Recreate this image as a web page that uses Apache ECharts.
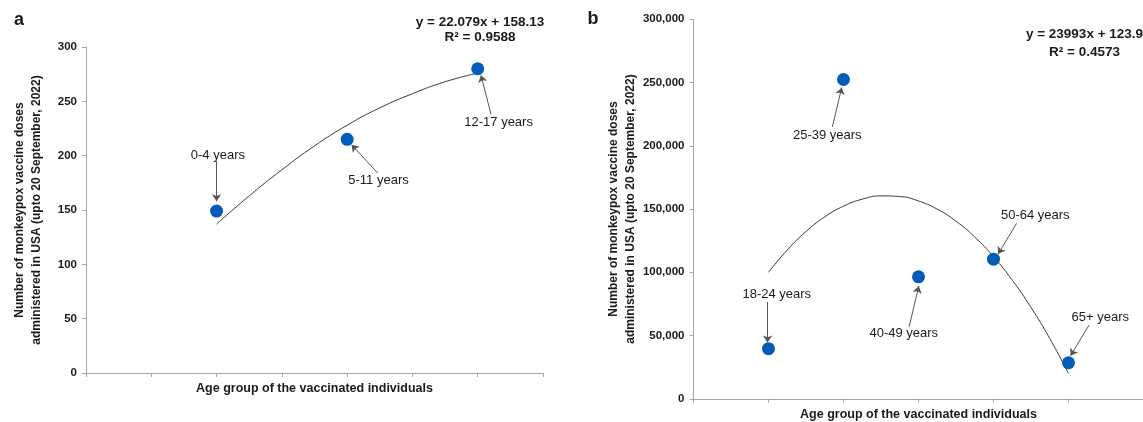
<!DOCTYPE html>
<html>
<head>
<meta charset="utf-8">
<script src="https://cdn.jsdelivr.net/npm/echarts@6/dist/echarts.min.js"></script>
<style>
html,body{margin:0;padding:0;background:#fff;}
#chart{width:1143px;height:422px;}
</style>
</head>
<body>
<div id="chart"></div>
<script>
// ---------- Panel a data ----------
const aCategories = ['0-4 years', '5-11 years', '12-17 years'];
const aX = [1, 2, 3];
const aValues = [149, 215, 280];
const aTrendX = [1, 1.25, 1.5, 1.75, 2, 2.25, 2.5, 2.75, 3];
const aTrendY = [137, 163, 187, 209, 228, 244, 257, 268, 276];
const aYTicks = [0, 50, 100, 150, 200, 250, 300];
const aEquation = ['y = 22.079x + 158.13', 'R² = 0.9588'];
// annotation anchors (data space): label centre, arrow start, arrow tip
const aLabelAt = [[1.01, 200], [2.24, 177], [3.16, 231]];
const aArrowFrom = [[1.0, 195], [2.234, 184], [3.102, 238]];
const aArrowTo = [[1.0, 158], [2.034, 210], [3.025, 274]];

// ---------- Panel b data ----------
const bCategories = ['18-24 years', '25-39 years', '40-49 years', '50-64 years', '65+ years'];
const bX = [1, 2, 3, 4, 5];
const bValues = [39600, 252400, 96400, 110400, 28500];
const bTrendX = [1, 1.25, 1.5, 1.75, 2, 2.25, 2.5, 2.75, 3, 3.25, 3.5, 3.75, 4, 4.25, 4.5, 4.75, 5];
const bTrendY = [100000, 117600, 132200, 143800, 152300, 157800, 160400, 159900, 156400,
                 149900, 140400, 127900, 112300, 93800, 72200, 47700, 20000];
const bYTicks = [0, 50000, 100000, 150000, 200000, 250000, 300000];
const bEquation = ['y = 23993x + 123.9', 'R² = 0.4573'];
const bLabelAt = [[1.11, 82500], [1.784, 208400], [2.804, 51400], [4.557, 145200], [5.424, 64600]];
const bArrowFrom = [[0.987, 76500], [1.852, 214900], [2.875, 57000], [4.307, 138600], [5.275, 58300]];
const bArrowTo = [[0.987, 44600], [1.976, 246100], [3.004, 89100], [4.061, 114400], [5.027, 34000]];

const yTitle = 'Number of monkeypox vaccine doses\nadministered in USA (upto 20 September, 2022)';
const xTitle = 'Age group of the vaccinated individuals';

const FONT = "'Liberation Sans', Arial, sans-serif";
const TXT = '#1a1a1a';
const AXIS = '#a6a6a6';
const DOT = '#035cb7';

function xAxisCfg(idx, max, interval) {
  return {
    type: 'value', gridIndex: idx, min: 0, max: max, interval: interval,
    name: xTitle, nameLocation: 'middle', nameGap: 9,
    nameTextStyle: {fontFamily: FONT, fontWeight: 'bold', fontSize: 12.5, color: TXT},
    axisLine: {show: true, onZero: false, lineStyle: {color: AXIS, width: 1}},
    axisTick: {show: true, length: 4, lineStyle: {color: AXIS}},
    axisLabel: {show: false},
    splitLine: {show: false}
  };
}
function yAxisCfg(idx, ticks, gap, fmt) {
  return {
    type: 'value', gridIndex: idx, min: ticks[0], max: ticks[ticks.length - 1],
    interval: ticks[1] - ticks[0],
    name: yTitle, nameLocation: 'middle', nameGap: gap,
    nameTextStyle: {fontFamily: FONT, fontWeight: 'bold', fontSize: 12, color: TXT, lineHeight: 17, align: 'center'},
    axisLine: {show: true, lineStyle: {color: AXIS, width: 1}},
    axisTick: {show: true, length: 4, lineStyle: {color: AXIS}},
    axisLabel: {fontFamily: FONT, fontWeight: 'bold', fontSize: 11.5, color: TXT, margin: 9, formatter: fmt},
    splitLine: {show: false}
  };
}
function pairs(xs, ys) { return xs.map((x, i) => [x, ys[i]]); }
function arrows(from, to) {
  return from.map((f, i) => [{coord: f}, {coord: to[i]}]);
}
function labelSeries(idx, pos, names) {
  return {
    type: 'scatter', xAxisIndex: idx, yAxisIndex: idx, symbolSize: 0, silent: true,
    itemStyle: {opacity: 1},
    data: pos.map((p, i) => ({value: p, name: names[i]})),
    label: {show: true, position: 'inside', formatter: p => p.name, opacity: 1,
      fontFamily: FONT, fontSize: 13, color: TXT},
    z: 5
  };
}
function pointSeries(idx, xs, vals, from, to) {
  return {
    type: 'scatter', xAxisIndex: idx, yAxisIndex: idx, symbolSize: 13,
    itemStyle: {color: DOT, opacity: 1},
    data: pairs(xs, vals), z: 4,
    markLine: {
      silent: true, symbol: ['none', 'arrow'], symbolSize: 7, precision: 6,
      lineStyle: {color: '#555', width: 1, type: 'solid', opacity: 1},
      itemStyle: {color: '#555'},
      label: {show: false},
      data: arrows(from, to)
    }
  };
}
function trendSeries(idx, xs, ys) {
  return {
    type: 'line', xAxisIndex: idx, yAxisIndex: idx, smooth: true, showSymbol: false, silent: true,
    lineStyle: {color: '#3a3a3a', width: 1},
    data: pairs(xs, ys), z: 3
  };
}

const chart = echarts.init(document.getElementById('chart'), null, {renderer: 'canvas'});
chart.setOption({
  animation: false,
  backgroundColor: '#fff',
  grid: [
    {left: 86, top: 47, width: 457, height: 326, outerBoundsMode: 'none', containLabel: false},
    {left: 693.5, top: 19.3, width: 450, height: 379.5, outerBoundsMode: 'none', containLabel: false}
  ],
  xAxis: [xAxisCfg(0, 3.5, 0.5), xAxisCfg(1, 6, 1)],
  yAxis: [
    yAxisCfg(0, aYTicks, 41, v => String(v)),
    yAxisCfg(1, bYTicks, 54, v => v.toLocaleString('en-US'))
  ],
  graphic: [
    {type: 'text', x: 19, y: 20, style: {text: 'a', font: "bold 18px " + FONT, fill: TXT, textAlign: 'center', textVerticalAlign: 'middle', align: 'center', verticalAlign: 'middle'}},
    {type: 'text', x: 593, y: 19, style: {text: 'b', font: "bold 18px " + FONT, fill: TXT, textAlign: 'center', textVerticalAlign: 'middle', align: 'center', verticalAlign: 'middle'}},
    {type: 'text', x: 480, y: 22, style: {text: aEquation[0], font: "bold 13.5px " + FONT, fill: TXT, textAlign: 'center', textVerticalAlign: 'middle', align: 'center', verticalAlign: 'middle'}},
    {type: 'text', x: 480, y: 37, style: {text: aEquation[1], font: "bold 13.5px " + FONT, fill: TXT, textAlign: 'center', textVerticalAlign: 'middle', align: 'center', verticalAlign: 'middle'}},
    {type: 'text', x: 1084.5, y: 34.5, style: {text: bEquation[0], font: "bold 13.5px " + FONT, fill: TXT, textAlign: 'center', textVerticalAlign: 'middle', align: 'center', verticalAlign: 'middle'}},
    {type: 'text', x: 1084.5, y: 52, style: {text: bEquation[1], font: "bold 13.5px " + FONT, fill: TXT, textAlign: 'center', textVerticalAlign: 'middle', align: 'center', verticalAlign: 'middle'}}
  ],
  series: [
    trendSeries(0, aTrendX, aTrendY),
    pointSeries(0, aX, aValues, aArrowFrom, aArrowTo),
    labelSeries(0, aLabelAt, aCategories),
    trendSeries(1, bTrendX, bTrendY),
    pointSeries(1, bX, bValues, bArrowFrom, bArrowTo),
    labelSeries(1, bLabelAt, bCategories)
  ]
});
</script>
</body>
</html>
